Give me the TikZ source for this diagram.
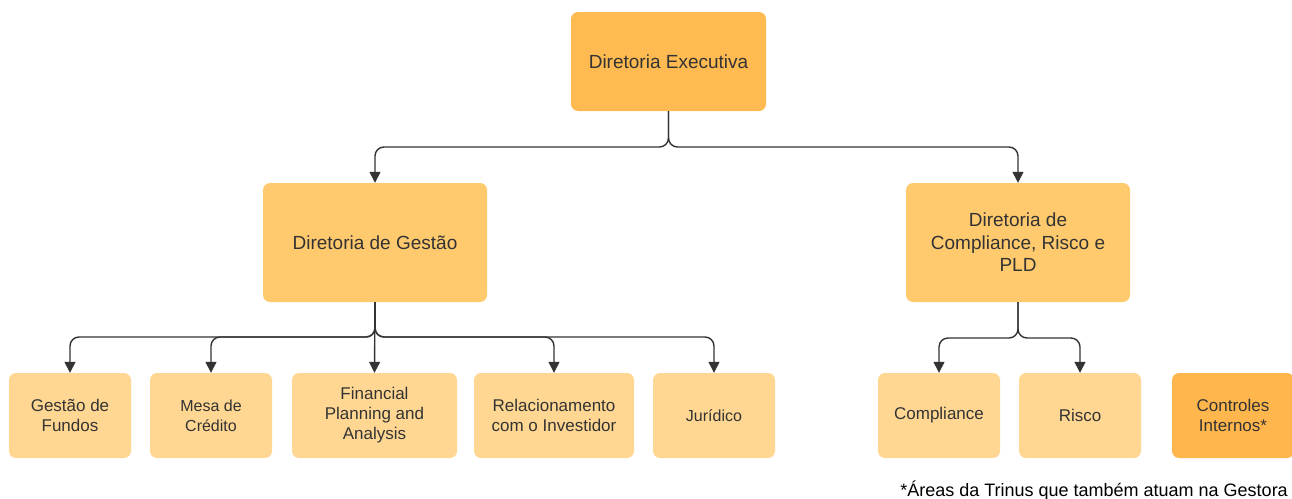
\documentclass[tikz,border=0pt]{standalone}
\usepackage{fontspec}
\setmainfont{Liberation Sans}
\usetikzlibrary{arrows.meta}
\definecolor{topc}{HTML}{FFBB52}
\definecolor{midc}{HTML}{FFCA6E}
\definecolor{lowc}{HTML}{FFD792}
\definecolor{ctrlc}{HTML}{FFB74D}
\definecolor{txt}{HTML}{333333}
\tikzset{
  box/.style={draw=none, rounded corners=7pt, align=center, text=txt, inner sep=0pt, font=\fontsize{19}{22.5}\selectfont},
  topbox/.style={box, fill=topc, minimum width=195pt, minimum height=99pt},
  midbox/.style={box, fill=midc, minimum width=224pt, minimum height=119pt},
  lowbox/.style={box, fill=lowc, minimum width=122pt, minimum height=85pt, font=\fontsize{17}{20}\selectfont},
  conn/.style={draw=txt, line width=1.4pt, rounded corners=9pt, -{Triangle[length=11pt,width=11pt]}},
}
\begin{document}
\begin{tikzpicture}[x=1pt,y=-1pt]
\useasboundingbox (0,0) rectangle (1292,498);
\node[topbox] (exec) at (668.5,61.5) {Diretoria Executiva};
\node[midbox] (gest) at (375,242.5) {Diretoria de Gestão};
\node[midbox] (comp) at (1018,242.5) {Diretoria de\\Compliance, Risco e\\PLD};
\node[lowbox] (fund) at (70,415.5) {Gestão de\\Fundos};
\node[lowbox, font=\fontsize{16}{20}\selectfont] (mesa) at (211,415.5) {Mesa de\\Crédito};
\node[lowbox, minimum width=165pt] (fpa) at (374.5,415.5) {Financial\\Planning and\\Analysis};
\node[lowbox, minimum width=160pt] (rel) at (554,415.5) {Relacionamento\\com o Investidor};
\node[lowbox, font=\fontsize{16}{20}\selectfont] (jur) at (714,415.5) {Jurídico};
\node[lowbox] (cpl) at (939,415.5) {Compliance};
\node[lowbox] (risc) at (1080,415.5) {Risco};
\node[lowbox, fill=ctrlc] (ctrl) at (1233,415.5) {Controles\\Internos*};
\node[anchor=base east, text=black, inner sep=0pt, font=\fontsize{18}{21}\selectfont] (note) at (1288,496) {*Áreas da Trinus que também atuam na Gestora};
\coordinate (b1) at (668.5,147);
\coordinate (b2) at (375,337);
\coordinate (b3) at (1018,338);
\draw[conn] (exec.south) -- (b1) -| (gest.north);
\draw[conn] (exec.south) -- (b1) -| (comp.north);
\draw[conn] (gest.south) -- (b2) -| (fund.north);
\draw[conn] (gest.south) -- (b2) -| (mesa.north);
\draw[conn] (gest.south) -- (fpa.north);
\draw[conn] (gest.south) -- (b2) -| (rel.north);
\draw[conn] (gest.south) -- (b2) -| (jur.north);
\draw[conn] (comp.south) -- (b3) -| (cpl.north);
\draw[conn] (comp.south) -- (b3) -| (risc.north);
\end{tikzpicture}
\end{document}
